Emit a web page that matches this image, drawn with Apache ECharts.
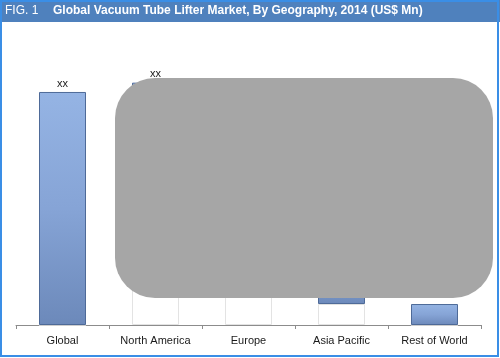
<!DOCTYPE html>
<html>
<head>
<meta charset="utf-8">
<script src="https://cdn.jsdelivr.net/npm/echarts@6/dist/echarts.min.js"></script>
<style>
html,body{margin:0;padding:0;background:#fff;}
#chart{width:500px;height:358px;}
</style>
</head>
<body>
<div id="chart"></div>
<script>
// Waterfall-style data (arbitrary units)
var categories = ['Global', 'North America', 'Europe', 'Asia Pacific', 'Rest of World'];
var baseValues = [0, 62, 30, 9, 0];      // invisible offsets
var segmentValues = [100, 42, 32, 21, 9]; // visible segments
var valueLabels = ['xx', 'xx', '', '', ''];

var chart = echarts.init(document.getElementById('chart'), null, {renderer: 'canvas'});
var sans = "'Liberation Sans', Arial, sans-serif";

chart.setOption({
  animation: false,
  backgroundColor: '#ffffff',
  grid: {left: 16, right: 19, top: 30, bottom: 33},
  xAxis: {
    type: 'category',
    data: categories,
    axisLine: {lineStyle: {color: '#8c8c8c', width: 1}},
    axisTick: {show: true, length: 4, lineStyle: {color: '#8c8c8c'}},
    axisLabel: {interval: 0, color: '#1a1a1a', fontSize: 11, fontFamily: sans, margin: 10}
  },
  yAxis: {
    type: 'value', min: 0, max: 126.6, show: false,
    splitLine: {show: false}
  },
  series: [
    {
      type: 'bar', stack: 'w', barWidth: 47,
      data: baseValues,
      itemStyle: {color: '#ffffff', borderColor: '#e3e3e3', borderWidth: 1},
      silent: true
    },
    {
      type: 'bar', stack: 'w', barWidth: 47,
      data: segmentValues,
      itemStyle: {
        color: new echarts.graphic.LinearGradient(0, 0, 0, 1, [
          {offset: 0, color: '#95b4e4'},
          {offset: 0.5, color: '#86a4d6'},
          {offset: 1, color: '#6c89ba'}
        ]),
        borderColor: '#4e6a98', borderWidth: 1
      },
      label: {
        show: true, position: 'top', distance: 3,
        color: '#1a1a1a', fontSize: 11, fontFamily: sans,
        formatter: function (p) { return valueLabels[p.dataIndex]; }
      }
    }
  ],
  graphic: [
    {type: 'rect', z: 100, shape: {x: 0, y: 0, width: 500, height: 22}, style: {fill: '#4f81bd'}},
    {type: 'text', z: 101, x: 5, y: 11, style: {text: 'FIG. 1', fill: '#ffffff', font: "12px " + sans, verticalAlign: 'middle'}},
    {type: 'text', z: 101, x: 53, y: 11, style: {text: 'Global Vacuum Tube Lifter Market, By Geography, 2014 (US$ Mn)', fill: '#ffffff', font: "bold 12px " + sans, verticalAlign: 'middle'}},
    {type: 'rect', z: 100, shape: {x: 115, y: 78, width: 378, height: 220, r: 40}, style: {fill: '#a6a6a6'}},
    {type: 'rect', z: 102, shape: {x: 1, y: 1, width: 497, height: 355}, style: {fill: 'none', stroke: '#3a8ee6', lineWidth: 2}}
  ]
});
</script>
</body>
</html>
